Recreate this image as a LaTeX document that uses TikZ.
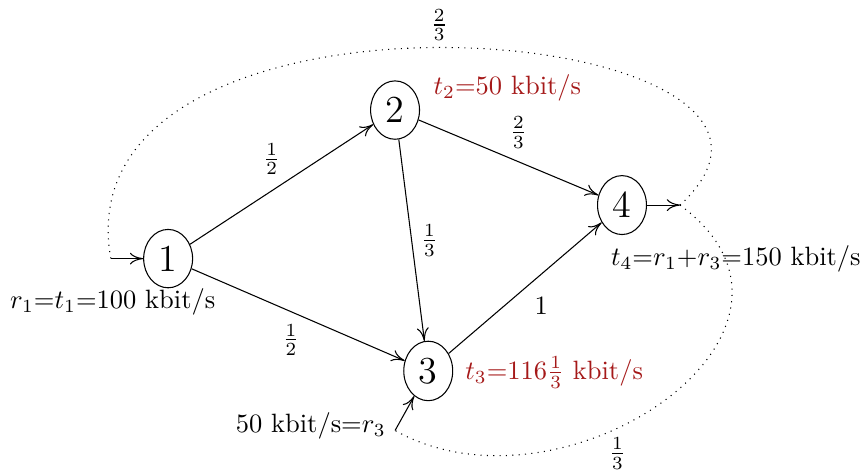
\documentclass[tikz,border=0pt]{standalone}
\usetikzlibrary{shapes.geometric,positioning,arrows.meta}
\definecolor{darkred}{RGB}{165,25,25}

\begin{document}
\begin{tikzpicture}[
    >={To[length=5pt,width=4.5pt]},
    station/.style={ellipse,draw,inner sep=3pt,font=\Large},
    flow/.style={->},
    feedback/.style={dotted},
    rate/.style={text=darkred}]
  \useasboundingbox (0,0) rectangle (11.42,6.25);
  % routers
  \node[station] (n1) at (2.23,2.82) {1};
  \node[station] (n2) at (5.24,4.79) {2};
  \node[station] (n3) at (5.68,1.33) {3};
  \node[station] (n4) at (8.25,3.53) {4};
  % loose ends of the outer flows
  \coordinate (in1) at (1.47,2.82);
  \coordinate (in3) at (5.24,0.54);
  \coordinate (out) at (9.02,3.53);
  % links and their shares
  \draw[flow] (n1) -- node[above left,xshift=3pt] {$\frac{1}{2}$} (n2);
  \draw[flow] (n1) -- node[below left,xshift=4pt] {$\frac{1}{2}$} (n3);
  \draw[flow] (n2) -- node[above right,xshift=-3pt] {$\frac{2}{3}$} (n4);
  \draw[flow] (n2) -- node[right] {$\frac{1}{3}$} (n3);
  \draw[flow] (n3) -- node[below right] {1} (n4);
  \draw[flow] (in1) -- (n1);
  \draw[flow] (in3) -- (n3);
  \draw[flow] (n4) -- (out);
  % traffic that goes round again
  \draw[feedback] (out) .. controls +(2.65,2.45) and +(-0.73,4.07) .. node[above=-1pt,pos=0.51] {$\frac{2}{3}$} (in1);
  \draw[feedback] (out) .. controls +(2.25,-1.66) and +(2.25,-1.26) .. node[below=0pt,pos=0.6] {$\frac{1}{3}$} (in3);
  % rates
  \node[anchor=west] (r1) at (0.01,2.24) {$r_1$=$t_1$=100 kbit/s};
  \node[rate] (t2) at (6.73,5.08) {$t_2$=50 kbit/s};
  \node[rate] (t3) at (7.35,1.31) {$t_3$=116$\frac{1}{3}$ kbit/s};
  \node[anchor=east] (t4) at (11.54,2.82) {$t_4$=$r_1$+$r_3$=150 kbit/s};
  \node[anchor=east] (r3) at (5.24,0.60) {50 kbit/s=$r_3$};
\end{tikzpicture}
\end{document}
